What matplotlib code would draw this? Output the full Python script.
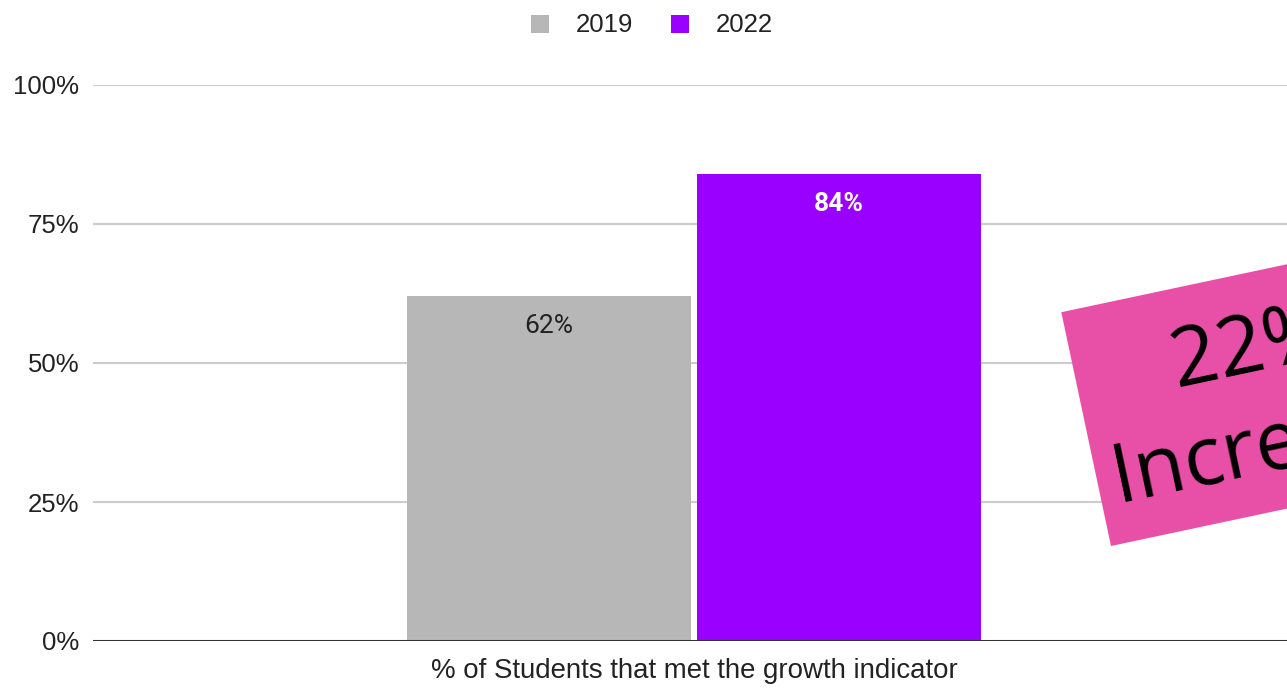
import matplotlib
matplotlib.use("Agg")
import matplotlib.pyplot as plt
from matplotlib.patches import Rectangle, Patch
from matplotlib.transforms import IdentityTransform

# Data
category = "% of Students that met the growth indicator"
years = ["2019", "2022"]
values = [62, 84]
value_labels = ["62%", "84%"]
y_ticks = [0, 25, 50, 75, 100]
y_tick_labels = ["0%", "25%", "50%", "75%", "100%"]
callout_lines = ["22%", "Increase"]

colors = ["#b7b7b7", "#9900ff"]
label_colors = ["#222222", "#ffffff"]
label_weights = ["normal", "bold"]

W, H, DPI = 1287, 688, 100
fig = plt.figure(figsize=(W / DPI, H / DPI), dpi=DPI)
fig.patch.set_facecolor("white")

ax = fig.add_axes([93 / W, (H - 641) / H, 1 - 93 / W, (641 - 85) / H])
ax.set_xlim(-1.0, 0.9867)
ax.set_ylim(0, 100)

bar_w = 0.4725
offsets = [-0.2413, 0.2413]
for off, v, c, lab, lc, lw in zip(offsets, values, colors, value_labels,
                                  label_colors, label_weights):
    ax.bar(off, v, width=bar_w, color=c, zorder=2)
    ax.annotate(lab, xy=(off, v), xytext=(0, -30), textcoords="offset pixels",
                ha="center", va="center", fontsize=19, color=lc,
                fontweight=lw, family="Roboto", zorder=3)

ax.set_yticks(y_ticks)
ax.set_yticklabels(y_tick_labels, family="Liberation Sans", fontsize=18.5,
                   color="#222222")
ax.set_xticks([0])
ax.set_xticklabels([category], family="Liberation Sans", fontsize=19.9,
                   color="#222222")
ax.tick_params(axis="both", length=0)
ax.tick_params(axis="y", pad=10)
ax.tick_params(axis="x", pad=12)

for y in y_ticks[1:]:
    ax.axhline(y, color="#cccccc", lw=1.5, zorder=1)
ax.axhline(0, color="#333333", lw=2.2, zorder=4)
for s in ax.spines.values():
    s.set_visible(False)

handles = [Patch(facecolor=c, edgecolor="none") for c in colors]
fig.legend(handles, years, loc="center", bbox_to_anchor=(652 / W, (H - 25.5) / H),
           ncol=2, frameon=False, prop={"family": "Liberation Sans", "size": 18.5},
           labelcolor="#222222", handlelength=0.7, handleheight=0.7,
           handletextpad=1.05, columnspacing=1.45)

# Rotated callout box, in output pixel coordinates
angle = 12
box = Rectangle((1111, 142), 353, 239, angle=angle, facecolor="#e84fa6",
                edgecolor="none", transform=IdentityTransform(), zorder=5)
fig.patches.append(box)
line_anchors = [(1256, 318), (1276, 220)]
for txt, (px, py) in zip(callout_lines, line_anchors):
    fig.text(px, py, txt, transform=IdentityTransform(), rotation=angle,
             rotation_mode="anchor", ha="center", va="baseline",
             fontsize=59, family="Open Sans", color="black", zorder=6)

fig.savefig("out.png", dpi=DPI)
